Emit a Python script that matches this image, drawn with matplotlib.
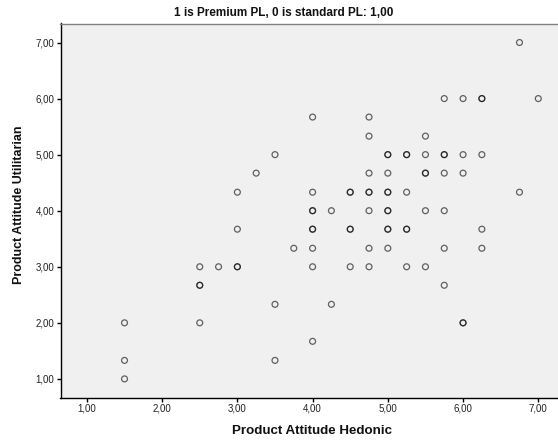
import matplotlib
matplotlib.use("Agg")
import matplotlib.pyplot as plt

plt.rcParams['font.family'] = ['Liberation Sans', 'DejaVu Sans']

title = "1 is Premium PL, 0 is standard PL: 1,00"
x_label = "Product Attitude Hedonic"
y_label = "Product Attitude Utilitarian"

# Product attitude scores (hedonic vs utilitarian), one entry per respondent
hedonic = [
    6.75,
    5.75, 6.00, 6.25, 6.25, 7.00,
    4.00, 4.75,
    4.75, 5.50,
    3.50, 5.00, 5.00, 5.25, 5.25, 5.50, 5.75, 5.75, 6.00, 6.25,
    3.25, 4.75, 5.00, 5.50, 5.50, 5.75, 6.00,
    3.00, 4.00, 4.50, 4.50, 4.75, 4.75, 5.00, 5.00, 5.25, 6.75,
    4.00, 4.00, 4.25, 4.75, 5.00, 5.00, 5.50, 5.75,
    3.00, 4.00, 4.00, 4.50, 4.50, 5.00, 5.00, 5.25, 5.25, 6.25,
    3.75, 4.00, 4.75, 5.00, 5.75, 6.25,
    2.50, 2.75, 3.00, 3.00, 4.00, 4.50, 4.75, 5.25, 5.50,
    2.50, 2.50, 5.75,
    3.50, 4.25,
    1.50, 2.50, 6.00, 6.00,
    4.00,
    1.50, 3.50,
    1.50,
]
utilitarian = [
    7.00,
    6.00, 6.00, 6.00, 6.00, 6.00,
    5.67, 5.67,
    5.33, 5.33,
    5.00, 5.00, 5.00, 5.00, 5.00, 5.00, 5.00, 5.00, 5.00, 5.00,
    4.67, 4.67, 4.67, 4.67, 4.67, 4.67, 4.67,
    4.33, 4.33, 4.33, 4.33, 4.33, 4.33, 4.33, 4.33, 4.33, 4.33,
    4.00, 4.00, 4.00, 4.00, 4.00, 4.00, 4.00, 4.00,
    3.67, 3.67, 3.67, 3.67, 3.67, 3.67, 3.67, 3.67, 3.67, 3.67,
    3.33, 3.33, 3.33, 3.33, 3.33, 3.33,
    3.00, 3.00, 3.00, 3.00, 3.00, 3.00, 3.00, 3.00, 3.00,
    2.67, 2.67, 2.67,
    2.33, 2.33,
    2.00, 2.00, 2.00, 2.00,
    1.67,
    1.33, 1.33,
    1.00,
]

ticks = [1, 2, 3, 4, 5, 6, 7]
tick_labels = ["1,00", "2,00", "3,00", "4,00", "5,00", "6,00", "7,00"]

W, H = 558, 441
fig = plt.figure(figsize=(W / 100, H / 100), dpi=100)
fig.patch.set_facecolor("white")

left, right, top, bottom = 60.5, 558, 23.5, 397.5
ax = fig.add_axes([left / W, 1 - bottom / H, (right - left) / W, (bottom - top) / H])
ax.set_facecolor("#f0f0f0")

ax.scatter(hedonic, utilitarian, s=18, facecolors="none",
           edgecolors=(0, 0, 0, 0.6), linewidths=0.9, zorder=3)

ax.set_xlim(0.649, 7.262)
ax.set_ylim(0.668, 7.339)
ax.set_xticks(ticks)
ax.set_xticklabels(tick_labels)
ax.set_yticks(ticks)
ax.set_yticklabels(tick_labels)
ax.tick_params(axis="both", direction="out", length=3, width=1, color="black",
               labelsize=7, labelcolor="#222222", pad=1.5)

for side in ("left", "bottom"):
    ax.spines[side].set_color("black")
    ax.spines[side].set_linewidth(1.0)
ax.spines["top"].set_color("#808080")
ax.spines["top"].set_linewidth(1.0)
ax.spines["right"].set_visible(False)

fig.text(284 / W, 1 - 12.5 / H, title, ha="center", va="center",
         fontsize=8.5, fontweight="bold", color="#111111")
fig.text(311.5 / W, 1 - 431 / H, x_label, ha="center", va="center",
         fontsize=9.6, fontweight="bold", color="#111111")
fig.text(19 / W, 1 - 205 / H, y_label, ha="center", va="center",
         rotation=90, fontsize=9.0, fontweight="bold", color="#111111")

fig.savefig("out.png", dpi=100, facecolor="white")
